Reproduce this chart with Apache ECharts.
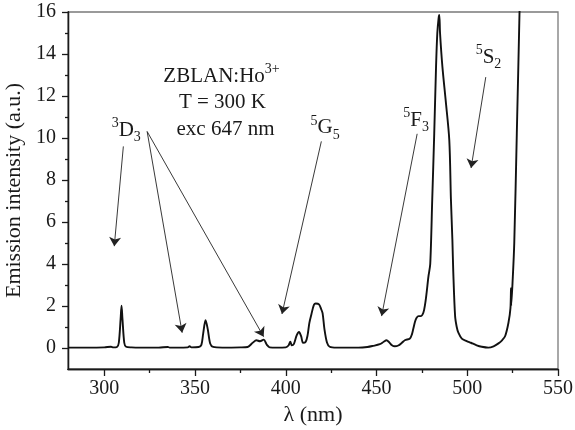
<!DOCTYPE html>
<html>
<head>
<meta charset="utf-8">
<script src="https://cdn.jsdelivr.net/npm/echarts@6/dist/echarts.min.js"></script>
<style>
  html, body { margin: 0; padding: 0; background: #ffffff; }
  #spectrumChart { width: 575px; height: 430px; }
</style>
</head>
<body>
<div id="spectrumChart"></div>
<script>
// 发射光谱数据
var wavelength = [
  280, 290, 300, 303.7, 305, 307, 308, 309, 309.5, 310, 311, 312, 315, 320, 330, 335, 336, 340,
  346, 347, 348, 352, 353.5, 354.5, 355.8, 357, 358.4, 360, 365, 375, 379, 381.9, 383.8, 385.8,
  387.8, 389.6, 391.1, 395, 400, 401.5, 402.5, 403.3, 404.5, 406, 407.3, 408.5, 409.5, 411, 412,
  413, 414.1, 415.5, 416.5, 418.3, 419.5, 420.3, 421.3, 422.7, 424.2, 428, 440, 445, 448, 451.8,
  454, 455.5, 457, 458.5, 460.1, 462, 464, 465.6, 468.4, 469.5, 470.2, 471.2, 472.1, 473.2, 474.3,
  475.8, 476.8, 477.6, 478.6, 479.6, 480.7, 481.8, 482.8, 483.5, 484.2, 484.6, 485.0, 486.3, 488.1,
  490.1, 491.0, 491.8, 492.3, 493.3, 494.2, 495.1, 497, 499.7, 502, 505.2, 508, 511.6, 514.5, 517.2,
  519.3, 520.9, 522.7, 523.8, 524.1, 524.2, 525.0, 525.9, 527.3, 528.8, 529.5
];
var intensity = [
  0.02, 0.02, 0.03, 0.06, 0.03, 0.05, 0.25, 1.4, 2.02, 1.4, 0.25, 0.06, 0.03, 0.02, 0.02, 0.05, 0.02, 0.02,
  0.03, 0.08, 0.03, 0.05, 0.15, 0.7, 1.32, 0.9, 0.2, 0.05, 0.02, 0.03, 0.05, 0.26, 0.37, 0.32,
  0.40, 0.15, 0.03, 0.02, 0.03, 0.12, 0.3, 0.13, 0.2, 0.6, 0.76, 0.55, 0.25, 0.3, 0.6,
  1.2, 1.6, 2.05, 2.12, 2.08, 1.85, 1.65, 0.9, 0.26, 0.06, 0.02, 0.02, 0.05, 0.1, 0.18,
  0.3, 0.37, 0.27, 0.13, 0.08, 0.12, 0.25, 0.37, 0.45, 0.65, 0.89, 1.25, 1.44, 1.52, 1.52,
  1.68, 2.1, 2.63, 3.4, 4.0, 7.07, 10.2, 13.4, 15.0, 15.7, 15.86, 15.0, 13.4, 11.8,
  9.9, 7.07, 5.17, 3.6, 1.52, 1.0, 0.73, 0.45, 0.33, 0.25, 0.13, 0.06, 0.02, 0.08, 0.22,
  0.38, 0.57, 1.2, 1.9, 2.85, 2.0, 3.2, 5.0, 10.2, 16, 19
];

// 刻度
var xTicks = [300, 350, 400, 450, 500, 550];
var xMinorTicks = [325, 375, 425, 475, 525];
var yTicks = [0, 2, 4, 6, 8, 10, 12, 14, 16];
var yMinorTicks = [1, 3, 5, 7, 9, 11, 13, 15];

// 注释文字与箭头（数据坐标）
var noteText = [
  "{n|ZBLAN:Ho}{sup|3+}",
  "{n|T = 300 K}",
  "{n|exc 647 nm}",
  "{sup|3}{n|D}{sub|3}",
  "{sup|5}{n|G}{sub|5}",
  "{sup|5}{n|F}{sub|3}",
  "{sup|5}{n|S}{sub|2}"
];
var noteX = [364.6, 365.1, 366.8, 312.1, 421.7, 471.8, 511.7];
var noteY = [12.93, 11.69, 10.4, 10.35, 10.48, 10.83, 13.83];

var arrowFrom = [[310.5, 9.6], [323.6, 10.31], [323.6, 10.31], [419.6, 9.84], [472.4, 10.2], [510.2, 12.9]];
var arrowTo = [[305.5, 4.85], [342.9, 0.73], [387.8, 0.54], [397.9, 1.62], [452.8, 1.52], [502.1, 8.57]];

var fontFamily = "Liberation Serif";
var axisColor = "#1a1a1a";

var initSpectrumChart = function () {
  var myChart = echarts.init(document.getElementById("spectrumChart"));

  var lineData = wavelength.map(function (w, i) {
    return [w, intensity[i]];
  });
  var markPointData = noteText.map(function (t, i) {
    return {
      coord: [noteX[i], noteY[i]],
      label: { formatter: t }
    };
  });
  var markLineData = arrowFrom.map(function (p, i) {
    return [{ coord: p }, { coord: arrowTo[i] }];
  });

  var chartOptions = {
    backgroundColor: "#ffffff",
    animation: false,
    textStyle: { fontFamily: fontFamily },
    grid: {
      left: 68,
      right: 17,
      top: 12,
      bottom: 61,
      containLabel: false,
      outerBoundsMode: "none",
      show: true,
      borderColor: "#7a7a7a",
      borderWidth: 1.3
    },
    xAxis: [
      {
        type: "value",
        min: 280,
        max: 550,
        name: "λ (nm)",
        nameLocation: "middle",
        nameGap: 28,
        nameTextStyle: { fontSize: 22, color: axisColor, fontFamily: fontFamily },
        splitLine: { show: false },
        axisLine: { show: true, onZero: false, lineStyle: { color: axisColor, width: 1.3 } },
        axisTick: { show: true, length: 7, customValues: xTicks, lineStyle: { color: axisColor, width: 1.3 } },
        axisLabel: {
          show: true,
          margin: 10,
          fontSize: 20,
          color: axisColor,
          fontFamily: fontFamily,
          customValues: xTicks
        }
      },
      {
        // 次刻度
        type: "value",
        position: "bottom",
        min: 280,
        max: 550,
        splitLine: { show: false },
        axisLine: { show: true, onZero: false, lineStyle: { color: axisColor, width: 1.3 } },
        axisLabel: { show: false },
        axisTick: { show: true, inside: false, length: 4, customValues: xMinorTicks, lineStyle: { color: axisColor, width: 1.3 } }
      }
    ],
    yAxis: [
      {
        type: "value",
        min: -1,
        max: 16,
        name: "Emission intensity (a.u.)",
        nameLocation: "middle",
        nameGap: 38,
        nameTextStyle: { fontSize: 22, color: axisColor, fontFamily: fontFamily },
        splitLine: { show: false },
        axisLine: { show: true, onZero: false, lineStyle: { color: axisColor, width: 1.3 } },
        axisTick: { show: true, length: 6, customValues: yTicks, lineStyle: { color: axisColor, width: 1.3 } },
        axisLabel: {
          show: true,
          margin: 12,
          fontSize: 20,
          color: axisColor,
          fontFamily: fontFamily,
          customValues: yTicks
        }
      },
      {
        // 次刻度
        type: "value",
        position: "left",
        offset: 0,
        min: -1,
        max: 16,
        splitLine: { show: false },
        axisLine: { show: true, onZero: false, lineStyle: { color: axisColor, width: 1.3 } },
        axisLabel: { show: false },
        axisTick: { show: true, inside: false, length: 3, customValues: yMinorTicks, lineStyle: { color: axisColor, width: 1.3 } }
      }
    ],
    series: [
      {
        name: "emission",
        type: "line",
        data: lineData,
        xAxisIndex: 0,
        yAxisIndex: 0,
        showSymbol: false,
        symbol: "none",
        smooth: 0.3,
        clip: true,
        lineStyle: { color: "#111111", width: 1.9 },
        markPoint: {
          silent: true,
          symbol: "circle",
          symbolSize: 1,
          itemStyle: { color: "rgba(0,0,0,0)" },
          label: {
            show: true,
            position: "inside",
            color: axisColor,
            fontFamily: fontFamily,
            rich: {
              n: { fontSize: 21, lineHeight: 28, fontFamily: fontFamily, color: axisColor },
              sup: { fontSize: 14, lineHeight: 16, verticalAlign: "top", fontFamily: fontFamily, color: axisColor },
              sub: { fontSize: 14, lineHeight: 16, verticalAlign: "bottom", fontFamily: fontFamily, color: axisColor }
            }
          },
          data: markPointData
        },
        markLine: {
          silent: true,
          symbol: ["none", "arrow"],
          symbolSize: 9,
          label: { show: false },
          lineStyle: { color: "#222222", width: 0.9, type: "solid" },
          emphasis: { disabled: true },
          data: markLineData
        }
      }
    ]
  };
  // 绘制图表
  myChart.setOption(chartOptions);
};

initSpectrumChart();
</script>
</body>
</html>
